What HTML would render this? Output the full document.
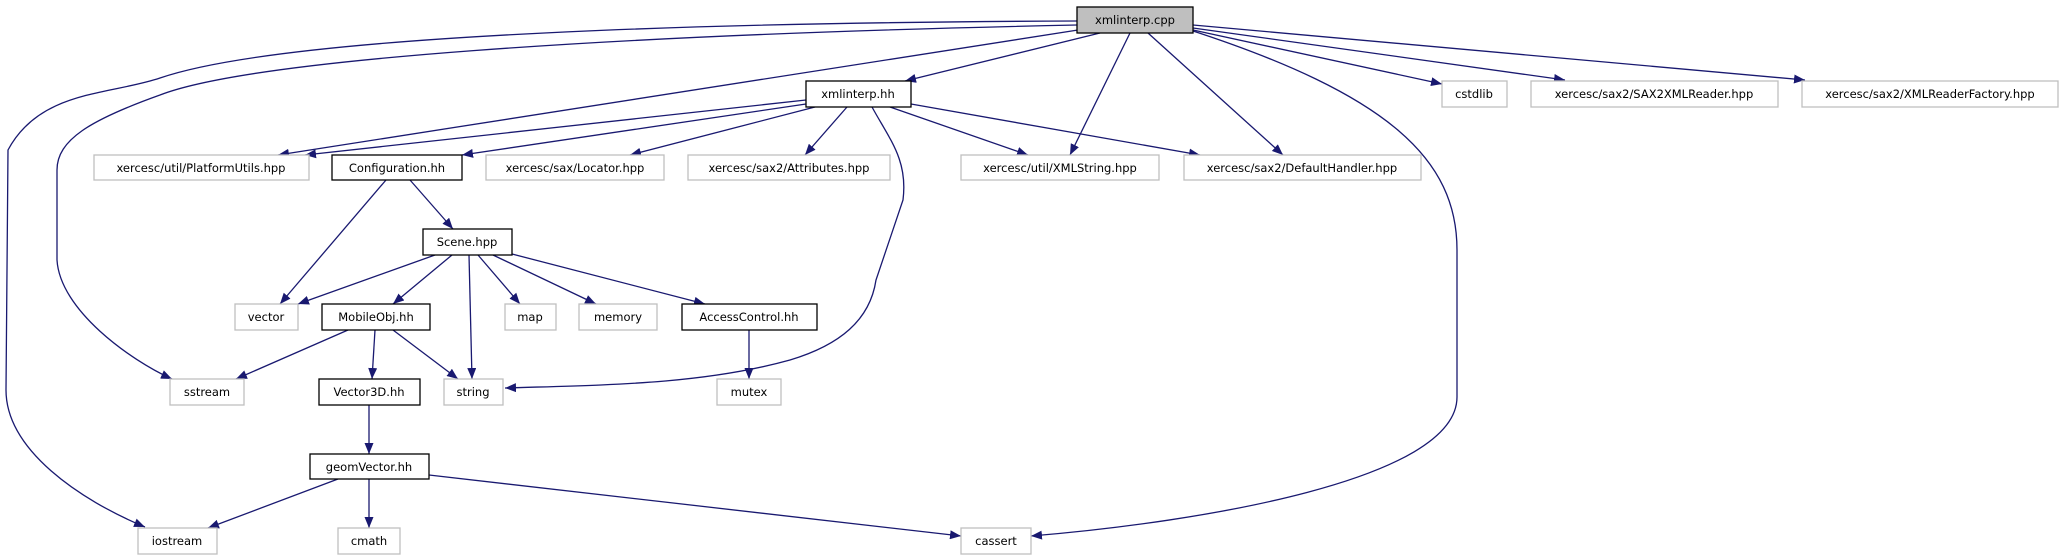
<!DOCTYPE html>
<html><head><meta charset="utf-8"><style>
html,body{margin:0;padding:0;background:#fff;}
svg{display:block;}
text{font-family:"DejaVu Sans","Liberation Sans",sans-serif;font-size:11.5px;fill:#000;}
</style></head><body>
<svg width="2065" height="560" viewBox="0 0 2065 560" xmlns="http://www.w3.org/2000/svg">
<defs>
<marker id="a" markerWidth="12" markerHeight="9" refX="11" refY="4.5" orient="auto" markerUnits="userSpaceOnUse">
<path d="M0,0 L11,4.5 L0,9 Z" fill="#191970"/>
</marker>
</defs>
<g fill="none" stroke="#191970" stroke-width="1.3" marker-end="url(#a)">
<path d="M1077,21 C800,22 300,30 160,78 C110,95 40,90 8,150 L6,390 C6,450 80,500 145,527"/>
<path d="M1077,25 C600,35 250,60 160,95 C90,120 57,140 57,170 L57,260 C60,310 130,360 172,379"/>
<path d="M1078,30 L278,155"/>
<path d="M1100,33 L905,81"/>
<path d="M1130,33 L1070,155"/>
<path d="M1148,33 L1283,155"/>
<path d="M1190,30 C1390,95 1457,160 1457,250 L1457,397 C1457,480 1200,522 1031,536"/>
<path d="M1193,30 L1442,84"/>
<path d="M1193,28 L1565,80"/>
<path d="M1193,25 L1805,80"/>
<path d="M806,100 L305,155"/>
<path d="M806,104 L462,155"/>
<path d="M815,107 L630,155"/>
<path d="M847,107 L805,155"/>
<path d="M890,107 L1028,155"/>
<path d="M911,104 L1200,155"/>
<path d="M872,107 C890,140 908,160 903,200 L876,280 C870,320 840,345 790,360 C700,385 600,385 505,388"/>
<path d="M410,180 L453,229"/>
<path d="M386,180 L280,304"/>
<path d="M435,255 L298,304"/>
<path d="M452,255 L393,304"/>
<path d="M469,255 L472,379"/>
<path d="M478,255 L520,304"/>
<path d="M493,255 L596,304"/>
<path d="M512,254 L705,304"/>
<path d="M348,330 L236,379"/>
<path d="M375,330 L372,379"/>
<path d="M393,330 L458,379"/>
<path d="M749,330 L749,379"/>
<path d="M369,405 L369,454"/>
<path d="M338,479 L208,528"/>
<path d="M369,479 L369,528"/>
<path d="M429,475 L961,536"/>
</g>
<g stroke-width="1.3">
<rect x="1077" y="7" width="116" height="26" fill="#bfbfbf" stroke="#000"/>
<rect x="806" y="81" width="105" height="26" fill="#fff" stroke="#000"/>
<rect x="1442" y="81" width="65" height="26" fill="#fff" stroke="#bfbfbf"/>
<rect x="1531" y="81" width="247" height="26" fill="#fff" stroke="#bfbfbf"/>
<rect x="1802" y="81" width="256" height="26" fill="#fff" stroke="#bfbfbf"/>
<rect x="94" y="155" width="215" height="25" fill="#fff" stroke="#bfbfbf"/>
<rect x="332" y="155" width="130" height="25" fill="#fff" stroke="#000"/>
<rect x="486" y="155" width="178" height="25" fill="#fff" stroke="#bfbfbf"/>
<rect x="688" y="155" width="202" height="25" fill="#fff" stroke="#bfbfbf"/>
<rect x="961" y="155" width="198" height="25" fill="#fff" stroke="#bfbfbf"/>
<rect x="1184" y="155" width="237" height="25" fill="#fff" stroke="#bfbfbf"/>
<rect x="423" y="229" width="89" height="26" fill="#fff" stroke="#000"/>
<rect x="235" y="304" width="63" height="26" fill="#fff" stroke="#bfbfbf"/>
<rect x="322" y="304" width="108" height="26" fill="#fff" stroke="#000"/>
<rect x="505" y="304" width="51" height="26" fill="#fff" stroke="#bfbfbf"/>
<rect x="579" y="304" width="78" height="26" fill="#fff" stroke="#bfbfbf"/>
<rect x="682" y="304" width="135" height="26" fill="#fff" stroke="#000"/>
<rect x="170" y="379" width="74" height="26" fill="#fff" stroke="#bfbfbf"/>
<rect x="319" y="379" width="101" height="26" fill="#fff" stroke="#000"/>
<rect x="444" y="379" width="59" height="26" fill="#fff" stroke="#bfbfbf"/>
<rect x="717" y="379" width="64" height="26" fill="#fff" stroke="#bfbfbf"/>
<rect x="310" y="454" width="119" height="25" fill="#fff" stroke="#000"/>
<rect x="138" y="528" width="79" height="26" fill="#fff" stroke="#bfbfbf"/>
<rect x="338" y="528" width="62" height="26" fill="#fff" stroke="#bfbfbf"/>
<rect x="961" y="528" width="70" height="26" fill="#fff" stroke="#bfbfbf"/>
</g>
<g text-anchor="middle">
<text x="1135" y="24">xmlinterp.cpp</text>
<text x="858" y="98">xmlinterp.hh</text>
<text x="1474" y="98">cstdlib</text>
<text x="1654" y="98">xercesc/sax2/SAX2XMLReader.hpp</text>
<text x="1930" y="98">xercesc/sax2/XMLReaderFactory.hpp</text>
<text x="201" y="172">xercesc/util/PlatformUtils.hpp</text>
<text x="397" y="172">Configuration.hh</text>
<text x="575" y="172">xercesc/sax/Locator.hpp</text>
<text x="789" y="172">xercesc/sax2/Attributes.hpp</text>
<text x="1060" y="172">xercesc/util/XMLString.hpp</text>
<text x="1302" y="172">xercesc/sax2/DefaultHandler.hpp</text>
<text x="467" y="246">Scene.hpp</text>
<text x="266" y="321">vector</text>
<text x="376" y="321">MobileObj.hh</text>
<text x="530" y="321">map</text>
<text x="618" y="321">memory</text>
<text x="749" y="321">AccessControl.hh</text>
<text x="207" y="396">sstream</text>
<text x="369" y="396">Vector3D.hh</text>
<text x="473" y="396">string</text>
<text x="749" y="396">mutex</text>
<text x="369" y="471">geomVector.hh</text>
<text x="177" y="545">iostream</text>
<text x="369" y="545">cmath</text>
<text x="996" y="545">cassert</text>
</g>
</svg>
</body></html>
